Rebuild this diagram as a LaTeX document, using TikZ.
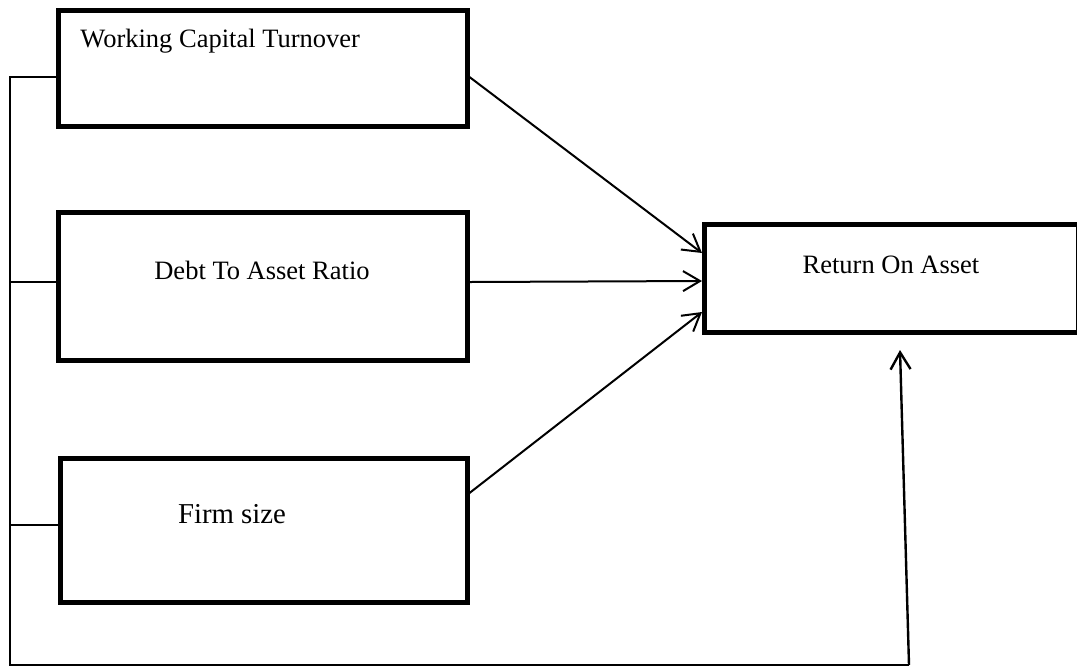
\documentclass[tikz,border=0pt]{standalone}
\usepackage{fontspec}
\setmainfont{Liberation Serif}
\usetikzlibrary{arrows.meta,calc}

\begin{document}
\begin{tikzpicture}[
    x=0.5pt, y=-0.5pt,
    every node/.style={
        font=\fontsize{13.25}{16}\selectfont,
        inner sep=0pt,
    },
    box/.style={draw, line width=2.5pt},
    wire/.style={line width=0.75pt},
    link/.style={-{Straight Barb[length=8.5pt,width=10pt]}, line width=1pt},
]
    \useasboundingbox (0,0) rectangle (1077,666);
    \node[box, minimum width=204.5pt, minimum height=58pt] (wct) at (262.5,68) {};
    \node[anchor=base west] (wct-t) at (80,47) {Working Capital Turnover};
    \node[box, minimum width=204.5pt, minimum height=74pt] (debt) at (262.5,286) {};
    \node[anchor=base] (debt-t) at (262,279) {Debt To Asset Ratio};
    \node[box, minimum width=203.5pt, minimum height=72pt] (firm) at (263.5,530) {};
    \node[anchor=base, font=\fontsize{14.4}{17}\selectfont] (firm-t) at (232,523) {Firm size};
    \node[box, minimum width=186.75pt, minimum height=54pt] (roa) at (891.25,278.5) {};
    \node[anchor=base] (roa-t) at (891,273) {Return On Asset};
    \coordinate (wct-in) at ([yshift=-4.5pt]wct.west);
    \coordinate (debt-in) at ([yshift=2pt]debt.west);
    \coordinate (firm-in) at ([yshift=2.5pt]firm.west);
    \coordinate (bus) at (10,665);
    \coordinate (rise) at (909,665);
    \coordinate (roa-tip) at (900,350);
    \draw[wire] (wct-in) -| (bus) -- (rise);
    \draw[wire] (debt-in) -- (debt-in -| bus);
    \draw[wire] (firm-in) -- (firm-in -| bus);
    \draw[link] ([yshift=-4.5pt]wct.east) -- ([yshift=12.75pt]roa.west);
    \draw[link] ([yshift=2pt]debt.east) -- ([yshift=-1.25pt]roa.west);
    \draw[link] ([yshift=18.5pt]firm.east) -- ([yshift=-16.75pt]roa.west);
    \draw[link, line width=1.2pt] (rise) -- (roa-tip);
\end{tikzpicture}
\end{document}
